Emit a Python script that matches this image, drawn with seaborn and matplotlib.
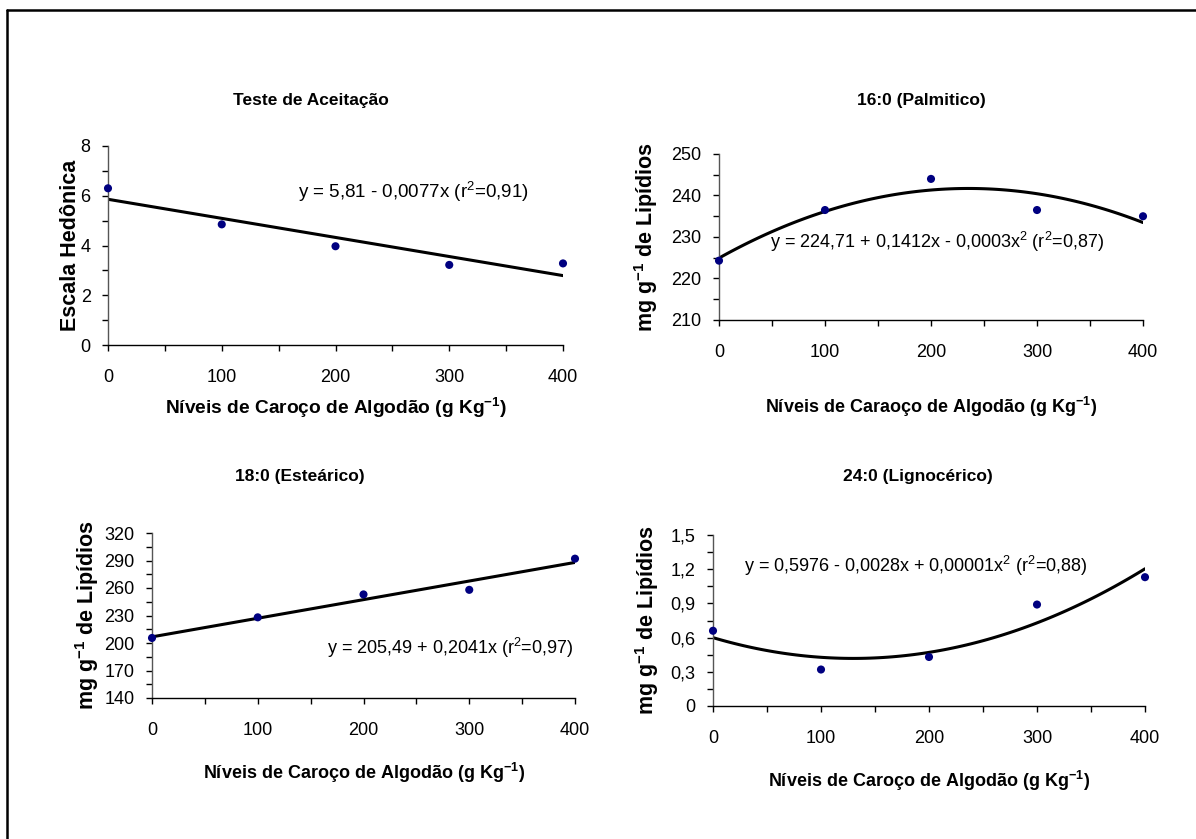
import matplotlib
matplotlib.use("Agg")
import matplotlib.pyplot as plt
import seaborn as sns
import numpy as np
import pandas as pd
from matplotlib.ticker import FixedLocator, MultipleLocator, FuncFormatter
from matplotlib.lines import Line2D

# ---------------- data ----------------
levels = [0, 100, 200, 300, 400]
aceitacao = [6.30, 4.85, 3.97, 3.22, 3.28]
palmitico = [224.3, 236.5, 244.0, 236.5, 235.0]
estearico = [205.5, 228.0, 253.0, 258.0, 292.0]
lignocerico = [0.66, 0.32, 0.43, 0.89, 1.13]

titles = ["Teste de Aceitação", "16:0 (Palmitico)", "18:0 (Esteárico)", "24:0 (Lignocérico)"]
equations = [
    r"y = 5,81 - 0,0077x (r$^2$=0,91)",
    r"y = 224,71 + 0,1412x - 0,0003x$^2$ (r$^2$=0,87)",
    r"y = 205,49 + 0,2041x (r$^2$=0,97)",
    r"y = 0,5976 - 0,0028x + 0,00001x$^2$ (r$^2$=0,88)",
]
ylabels = ["Escala Hedônica", r"mg g$^{\mathbf{-1}}$ de Lipídios",
           r"mg g$^{\mathbf{-1}}$ de Lipídios", r"mg g$^{\mathbf{-1}}$ de Lipídios"]
xlabels = [r"Níveis de Caroço de Algodão (g Kg$^{\mathbf{-1}}$)",
           r"Níveis de Caraoço de Algodão (g Kg$^{\mathbf{-1}}$)",
           r"Níveis de Caroço de Algodão (g Kg$^{\mathbf{-1}}$)",
           r"Níveis de Caroço de Algodão (g Kg$^{\mathbf{-1}}$)"]
series = [aceitacao, palmitico, estearico, lignocerico]
fit_order = [1, 2, 1, 2]
ylims = [(0, 8), (210, 250), (140, 320), (0, 1.5)]
ymajor = [2, 10, 30, 0.3]

# ---------------- layout (pixels) ----------------
W, H = 1196, 839
axes_px = [(108, 146, 563, 345), (719, 154, 1143, 320),
           (152, 533, 575, 698), (713, 535, 1145, 706)]
title_px = [(311, 100), (921, 100), (300, 476), (918, 476)]
xlabel_px = [(336, 408), (931, 407), (364, 773), (929, 781)]
xlabel_size = [13.8, 13, 13, 13]
eq_size = [13.5, 13, 13, 13]
ylabel_x = [70, 646, 87, 647]
eq_px = [(298, 192), (770, 242), (327, 648), (744, 566)]

sns.set_theme(style="white")
plt.rcParams["font.family"] = ["Liberation Sans", "DejaVu Sans"]
plt.rcParams["mathtext.fontset"] = "custom"
plt.rcParams["mathtext.rm"] = "Liberation Sans"
plt.rcParams["mathtext.it"] = "Liberation Sans:italic"
plt.rcParams["mathtext.bf"] = "Liberation Sans:bold"

fig = plt.figure(figsize=(W / 100, H / 100), dpi=100)
fig.patch.set_facecolor("white")


def fx(px):
    return px / W


def fy(py):
    return 1 - py / H


def fmt(v, pos):
    v = round(v, 3)
    return ("%g" % v).replace(".", ",")


for i in range(4):
    l, t, r, b = axes_px[i]
    ax = fig.add_axes([fx(l), fy(b), (r - l) / W, (b - t) / H])
    df = pd.DataFrame({"x": levels, "y": series[i]})
    sns.regplot(data=df, x="x", y="y", order=fit_order[i], ci=None, ax=ax,
                truncate=True,
                scatter_kws=dict(s=34, color="#000080", edgecolor="none",
                                 alpha=1, clip_on=False, zorder=3),
                line_kws=dict(color="black", lw=2.2, zorder=2))
    lo, hi = ylims[i]
    ax.set_xlim(0, 400)
    ax.set_ylim(lo, hi)
    ax.set_facecolor("white")
    for s in ["top", "right"]:
        ax.spines[s].set_visible(False)
    ax.spines["left"].set_color("#555555")
    ax.spines["bottom"].set_color("black")
    ax.spines["left"].set_linewidth(1.0)
    ax.spines["bottom"].set_linewidth(1.0)
    ax.xaxis.set_major_locator(MultipleLocator(100))
    ax.xaxis.set_minor_locator(MultipleLocator(50))
    step = ymajor[i]
    major = np.round(np.arange(lo, hi + step / 2, step), 4)
    minor = np.round(np.arange(lo + step / 2, hi, step), 4)
    ax.yaxis.set_major_locator(FixedLocator(major))
    ax.yaxis.set_minor_locator(FixedLocator(minor))
    ax.yaxis.set_major_formatter(FuncFormatter(fmt))
    ax.tick_params(axis="both", which="both", direction="out", length=4.5,
                   width=1.0, color="black", bottom=True, left=True)
    ax.tick_params(axis="x", which="major", pad=13)
    ax.tick_params(axis="y", which="major", pad=8)
    for lab in ax.get_xticklabels() + ax.get_yticklabels():
        lab.set_fontsize(13)
        lab.set_color("black")
    ax.set_xlabel("")
    ax.set_ylabel(ylabels[i], fontsize=15.5, fontweight="bold", color="black")
    ax.yaxis.set_label_coords((ylabel_x[i] - l) / (r - l), 0.5)
    ax.yaxis.label.set_va("center")
    # equation
    ex, ey = eq_px[i]
    fig.text(fx(ex), fy(ey), equations[i], ha="left", va="center",
             fontsize=eq_size[i], color="black")
    # title
    tx, ty = title_px[i]
    fig.text(fx(tx), fy(ty), titles[i], ha="center", va="center",
             fontsize=12.5, fontweight="bold", color="black")
    # x label
    lx, ly = xlabel_px[i]
    fig.text(fx(lx), fy(ly), xlabels[i], ha="center", va="center",
             fontsize=xlabel_size[i], fontweight="bold", color="black")

# outer frame (top and left edges visible)
fig.add_artist(Line2D([fx(7), fx(7)], [fy(10), 0], transform=fig.transFigure,
                      color="black", lw=1.8))
fig.add_artist(Line2D([fx(7), 1], [fy(10), fy(10)], transform=fig.transFigure,
                      color="black", lw=1.8))

fig.savefig("out.png", dpi=100, facecolor="white")
